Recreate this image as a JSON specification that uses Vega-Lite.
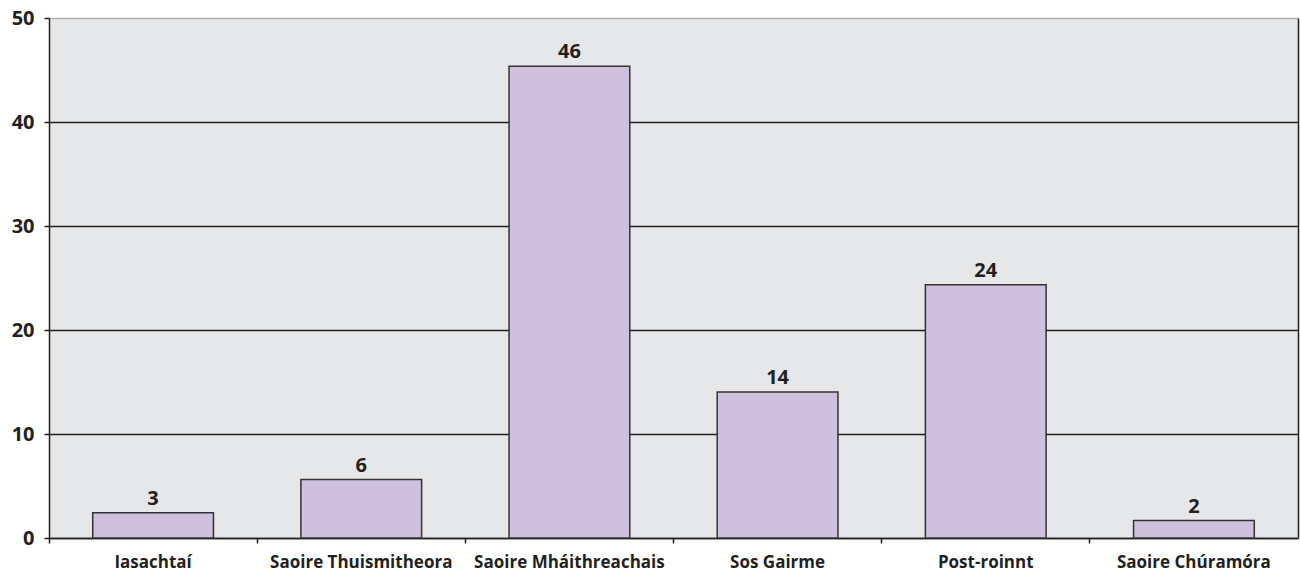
{
  "$schema": "https://vega.github.io/schema/vega-lite/v6.json",
  "autosize": "none",
  "width": 1249,
  "height": 520,
  "padding": {"left": 49, "top": 18, "right": 2, "bottom": 39},
  "background": "white",
  "config": {
    "view": {"fill": "#e6e7e9", "stroke": null},
    "font": "Open Sans"
  },
  "data": {
    "values": [
      {"category": "Iasachtaí", "value": 2.42, "label": "3"},
      {"category": "Saoire Thuismitheora", "value": 5.62, "label": "6"},
      {"category": "Saoire Mháithreachais", "value": 45.36, "label": "46"},
      {"category": "Sos Gairme", "value": 14.05, "label": "14"},
      {"category": "Post-roinnt", "value": 24.35, "label": "24"},
      {"category": "Saoire Chúramóra", "value": 1.68, "label": "2"}
    ]
  },
  "encoding": {
    "x": {
      "field": "category",
      "type": "nominal",
      "sort": null,
      "scale": {"paddingInner": 0.42, "paddingOuter": 0.21},
      "axis": {
        "title": null,
        "labelAngle": 0,
        "labelFont": "Open Sans",
        "labelFontSize": 17,
        "labelFontWeight": "bold",
        "labelColor": "#231f20",
        "labelPadding": 11,
        "labelLimit": 400,
        "labelOverlap": false,
        "domainColor": "#231f20",
        "domainWidth": 1.5,
        "tickColor": "#231f20",
        "tickWidth": 1.5,
        "tickSize": 5,
        "bandPosition": -0.362,
        "tickExtra": false
      }
    }
  },
  "layer": [
    {
      "mark": {"type": "bar", "fill": "#cfc0dd", "stroke": "#333333", "strokeWidth": 1.5},
      "encoding": {
        "y": {
          "field": "value",
          "type": "quantitative",
          "scale": {"domain": [0, 50], "nice": false},
          "axis": {
            "title": null,
            "values": [0, 10, 20, 30, 40, 50],
            "labelFont": "Open Sans",
            "labelFontSize": 20,
            "labelFontWeight": "bold",
            "labelColor": "#231f20",
            "labelPadding": 10,
            "domainColor": "#231f20",
            "domainWidth": 1.5,
            "tickColor": "#231f20",
            "tickWidth": 1.5,
            "tickSize": 5,
            "grid": true,
            "gridColor": {"condition": {"test": "datum.value == 50", "value": "#b0b0b0"}, "value": "#231f20"},
            "gridWidth": 1.5
          }
        }
      }
    },
    {
      "mark": {"type": "text", "baseline": "bottom", "dy": -4, "fontSize": 20, "fontWeight": "bold", "font": "Open Sans", "color": "#231f20"},
      "encoding": {
        "y": {
          "field": "value",
          "type": "quantitative",
          "axis": {
            "orient": "right",
            "title": null,
            "labels": false,
            "ticks": false,
            "grid": false,
            "domainColor": "#231f20",
            "domainWidth": 1.5
          }
        },
        "text": {"field": "label"}
      }
    }
  ],
  "resolve": {"axis": {"y": "independent"}}
}
